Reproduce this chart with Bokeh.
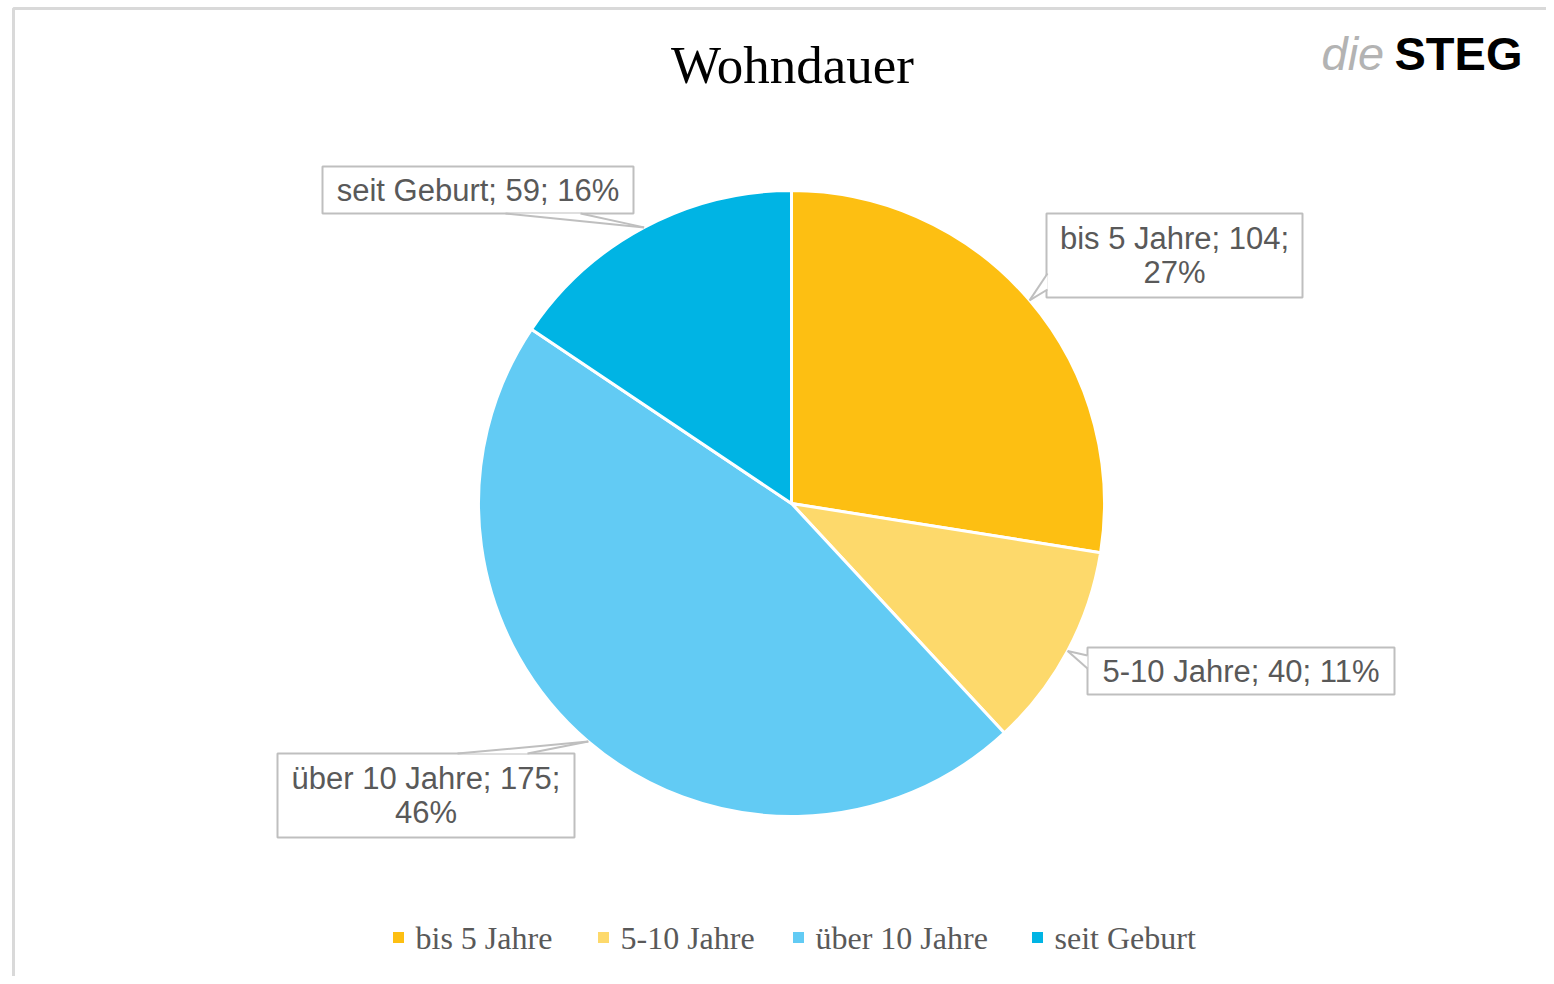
import numpy as np
from bokeh.plotting import figure
from bokeh.models import Range1d, ColumnDataSource
from bokeh.core.properties import value
from bokeh.embed import file_html
from bokeh.resources import INLINE

# ---- data ----
categories = ["bis 5 Jahre", "5-10 Jahre", "über 10 Jahre", "seit Geburt"]
counts = [104, 40, 175, 59]
percents = [27, 11, 46, 16]
colors = ["#FDBF12", "#FDD96B", "#62CBF4", "#00B4E4"]
label_lines = [
    "bis 5 Jahre; 104;\n27%",
    "5-10 Jahre; 40; 11%",
    "über 10 Jahre; 175;\n46%",
    "seit Geburt; 59; 16%",
]

# ---- layout (page pixel coordinates) ----
W, H = 1546, 976
CX, CY, R = 791, 503, 313
box_layout = [  # cx, cy, w, h
    (1174, 255, 256, 84),
    (1240.5, 670.5, 307, 47),
    (425.5, 795, 297, 84),
    (477.5, 189.5, 311, 47),
]
pointer_bases = [
    [(1047, 273), (1047, 289)],
    [(1087, 655), (1087, 668)],
    [(457, 753), (527, 753)],
    [(505, 213), (580, 213)],
]
legend_marker_x = [398, 603, 798, 1037]
legend_y = 937

p = figure(width=W, height=H, x_range=Range1d(0, W), y_range=Range1d(-H, 0),
           output_backend="svg", toolbar_location=None,
           x_axis_location=None, y_axis_location=None, min_border=0)
p.grid.visible = False
p.outline_line_color = None
p.background_fill_color = "white"
p.border_fill_color = "white"

# frame
p.line(x=[13, 13, 1600], y=[-1000, -8, -8], line_color="#d9d9d9", line_width=3)

# pie
total = sum(counts)
cum = np.cumsum([0] + counts)
start = np.pi / 2 - 2 * np.pi * cum[:-1] / total
end = np.pi / 2 - 2 * np.pi * cum[1:] / total
src = ColumnDataSource(dict(cat=categories, start=start, end=end, color=colors))
p.wedge(x=CX, y=-CY, radius=R, start_angle="start", end_angle="end", direction="clock",
        fill_color="color", line_color="white", line_width=3, source=src)

# labels with callouts
mid = (start + end) / 2
for i in range(len(categories)):
    cx, cy, w, h = box_layout[i]
    tx = CX + R * np.cos(mid[i])
    ty = -CY + R * np.sin(mid[i])
    p.rect(x=cx, y=-cy, width=w, height=h, fill_color="white",
           line_color="#bfbfbf", line_width=2)
    (ax, ay), (bx, by) = pointer_bases[i]
    p.patch(x=[ax, tx, bx], y=[-ay, ty, -by], fill_color="white", line_color=None)
    p.multi_line(xs=[[ax, tx], [bx, tx]], ys=[[-ay, ty], [-by, ty]],
                 line_color="#bfbfbf", line_width=2)
    p.text(x=[cx], y=[-cy], text=[label_lines[i]], text_align="center",
           text_baseline="middle", text_font=value("Liberation Sans"),
           text_font_size=value("31px"), text_color="#595959", text_line_height=0.99)

# title
p.text(x=[792], y=[-64], text=["Wohndauer"], text_align="center", text_baseline="middle",
       text_font=value("Liberation Serif"), text_font_size=value("53px"), text_color="#000000")

# logo
p.text(x=[1321], y=[-53], text=["die"], text_align="left", text_baseline="middle",
       text_font=value("Liberation Sans"), text_font_style="italic",
       text_font_size=value("47px"), text_color="#b3b3b3")
p.text(x=[1394], y=[-53], text=["STEG"], text_align="left", text_baseline="middle",
       text_font=value("Liberation Sans"), text_font_style="bold",
       text_font_size=value("47px"), text_color="#000000")

# legend
lsrc = ColumnDataSource(dict(x=legend_marker_x, tx=[x + 17 for x in legend_marker_x],
                             y=[-legend_y] * 4, cat=categories, color=colors))
p.rect(x="x", y="y", width=11, height=11, fill_color="color", line_color=None, source=lsrc)
p.text(x="tx", y="y", text="cat", text_align="left", text_baseline="middle",
       text_font=value("Liberation Serif"), text_font_size=value("32px"),
       text_color="#595959", source=lsrc)

open("out.html", "w").write(file_html(p, INLINE))
